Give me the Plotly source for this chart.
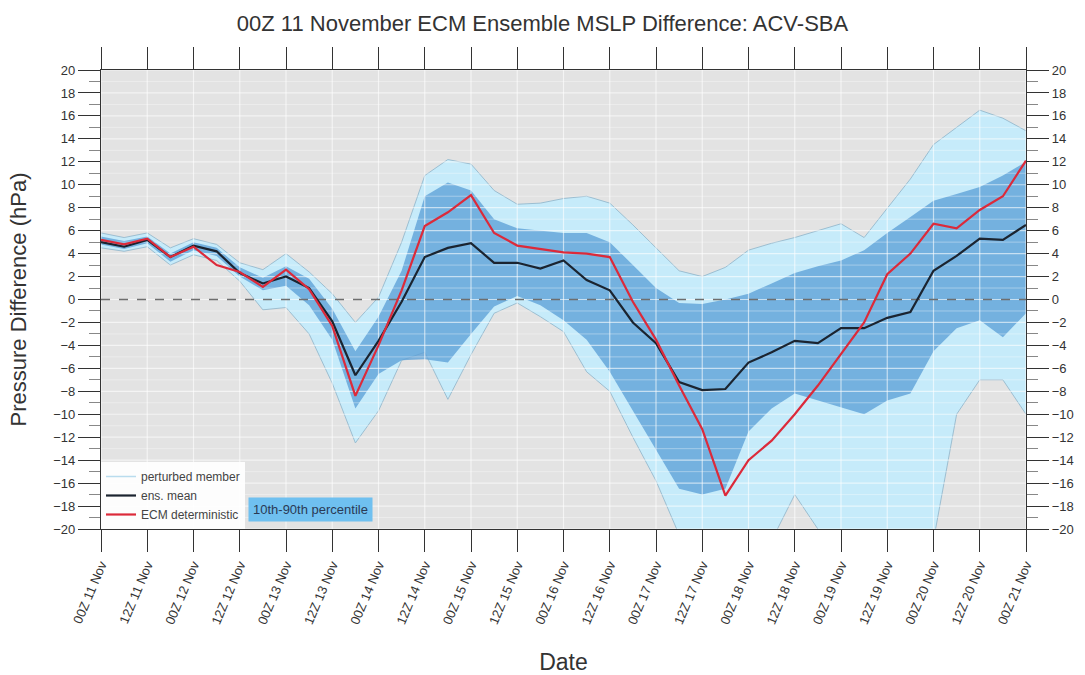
import plotly.graph_objects as go

# Forecast lead time (hours from 00Z 11 Nov), 6-hourly
hours = list(range(0, 241, 6))

# ECM deterministic run (hPa)
ecm_det = [5.2, 4.8, 5.3, 3.7, 4.6, 3.0, 2.4, 1.1, 2.6, 0.9, -2.3, -8.4, -4.0,
           0.8, 6.4, 7.6, 9.1, 5.8, 4.7, 4.4, 4.1, 4.0, 3.7, -0.2, -3.5, -7.5,
           -11.3, -17.1, -14.0, -12.3, -10.0, -7.5, -4.7, -2.0, 2.2, 4.0, 6.6,
           6.2, 7.8, 9.0, 12.1]

# Ensemble mean (hPa)
ens_mean = [5.0, 4.6, 5.2, 3.7, 4.7, 4.2, 2.3, 1.4, 2.0, 1.0, -1.9, -6.6, -3.6,
            -0.2, 3.7, 4.5, 4.9, 3.2, 3.2, 2.7, 3.4, 1.7, 0.8, -2.0, -3.8, -7.2,
            -7.9, -7.8, -5.5, -4.6, -3.6, -3.8, -2.5, -2.5, -1.6, -1.1, 2.5,
            3.8, 5.3, 5.2, 6.5]

# 90th and 10th percentiles of the perturbed members (hPa)
p90 = [5.5, 5.1, 5.5, 4.0, 5.0, 4.5, 2.8, 1.9, 2.9, 1.8, -0.8, -4.5, -1.5,
       2.5, 9.0, 10.2, 9.5, 7.0, 6.2, 6.0, 5.8, 5.8, 5.0, 3.0, 1.0, -0.3,
       -0.4, 0.0, 0.5, 1.4, 2.3, 2.9, 3.4, 4.3, 5.8, 7.2, 8.6, 9.2, 9.8,
       10.8, 12.0]
p10 = [4.8, 4.4, 4.9, 3.3, 4.3, 3.8, 2.0, 0.8, 1.2, -0.5, -3.5, -9.5, -6.5,
       -5.3, -5.2, -5.5, -3.0, -0.6, 0.3, -0.5, -1.8, -3.5, -6.3, -9.7, -13.0,
       -16.5, -17.0, -16.5, -11.5, -9.5, -8.2, -8.8, -9.4, -10.0, -8.8, -8.2,
       -4.5, -2.5, -1.8, -3.3, -1.2]

# Highest and lowest perturbed member (hPa)
mem_max = [5.8, 5.4, 5.8, 4.5, 5.3, 4.8, 3.2, 2.6, 4.0, 2.4, 0.5, -2.0, 0.2,
           5.0, 10.8, 12.2, 11.8, 9.5, 8.3, 8.4, 8.8, 9.0, 8.4, 6.5, 4.5, 2.5,
           2.0, 2.8, 4.3, 4.9, 5.4, 6.0, 6.6, 5.4, 8.0, 10.5, 13.5, 15.0, 16.5,
           15.8, 14.7]
mem_min = [4.5, 4.2, 4.6, 3.0, 3.9, 3.4, 1.6, -0.9, -0.7, -3.0, -7.3, -12.5,
           -9.7, -5.3, -4.6, -8.7, -4.8, -1.2, -0.3, -1.5, -2.8, -6.3, -8.0,
           -12.0, -15.8, -20.5, -22.0, -22.0, -22.0, -21.0, -17.0, -20.0,
           -22.0, -22.0, -22.0, -22.0, -21.0, -10.0, -7.0, -7.0, -10.0]

# Axis labelling
tick_hours = list(range(0, 241, 12))
tick_text = ["00Z 11 Nov", "12Z 11 Nov", "00Z 12 Nov", "12Z 12 Nov",
             "00Z 13 Nov", "12Z 13 Nov", "00Z 14 Nov", "12Z 14 Nov",
             "00Z 15 Nov", "12Z 15 Nov", "00Z 16 Nov", "12Z 16 Nov",
             "00Z 17 Nov", "12Z 17 Nov", "00Z 18 Nov", "12Z 18 Nov",
             "00Z 19 Nov", "12Z 19 Nov", "00Z 20 Nov", "12Z 20 Nov",
             "00Z 21 Nov"]
y_ticks = list(range(-20, 21, 2))
y_minor = list(range(-19, 20, 2))

FONT = "Liberation Sans, Arial, sans-serif"
ENVELOPE = "#c6ebfa"
BAND = "rgba(92,160,215,0.78)"
MEMBER = "rgba(150,185,205,0.9)"


def grid_path(values, horizontal):
    """Polyline with breaks so one trace draws a whole family of grid lines."""
    xs, ys = [], []
    for v in values:
        if horizontal:
            xs += [0, 240, None]
            ys += [v, v, None]
        else:
            xs += [v, v, None]
            ys += [-20, 20, None]
    return xs, ys


fig = go.Figure()

# spread of all perturbed members
fig.add_trace(go.Scatter(x=hours, y=mem_min, mode="lines",
                         line=dict(color=MEMBER, width=1),
                         showlegend=False, hoverinfo="skip"))
fig.add_trace(go.Scatter(x=hours, y=mem_max, mode="lines",
                         line=dict(color=MEMBER, width=1),
                         fill="tonexty", fillcolor=ENVELOPE,
                         showlegend=False, hoverinfo="skip"))

# 10th-90th percentile band
fig.add_trace(go.Scatter(x=hours, y=p10, mode="lines",
                         line=dict(color="rgba(0,0,0,0)", width=0),
                         showlegend=False, hoverinfo="skip"))
fig.add_trace(go.Scatter(x=hours, y=p90, mode="lines",
                         line=dict(color="rgba(0,0,0,0)", width=0),
                         fill="tonexty", fillcolor=BAND,
                         showlegend=False, hoverinfo="skip"))

# white grid drawn over the shaded spread
gx, gy = grid_path(y_minor, True)
fig.add_trace(go.Scatter(x=gx, y=gy, mode="lines", showlegend=False,
                         hoverinfo="skip",
                         line=dict(color="rgba(255,255,255,0.35)", width=1)))
gx, gy = grid_path(y_ticks, True)
fig.add_trace(go.Scatter(x=gx, y=gy, mode="lines", showlegend=False,
                         hoverinfo="skip",
                         line=dict(color="rgba(255,255,255,0.6)", width=1.2)))
gx, gy = grid_path(tick_hours, False)
fig.add_trace(go.Scatter(x=gx, y=gy, mode="lines", showlegend=False,
                         hoverinfo="skip",
                         line=dict(color="rgba(255,255,255,0.6)", width=1.2)))

# zero reference line
fig.add_trace(go.Scatter(x=[0, 240], y=[0, 0], mode="lines",
                         showlegend=False, hoverinfo="skip",
                         line=dict(color="#6e6e6e", width=1.5, dash="dash")))

# legend keys
fig.add_trace(go.Scatter(x=[None], y=[None], mode="lines",
                         line=dict(color="#b9dcee", width=1.5),
                         name="perturbed member"))
fig.add_trace(go.Scatter(x=hours, y=ens_mean, mode="lines",
                         line=dict(color="#1b2430", width=2.2),
                         name="ens. mean"))
fig.add_trace(go.Scatter(x=hours, y=ecm_det, mode="lines",
                         line=dict(color="#dc2a3a", width=2.2),
                         name="ECM deterministic"))

# right-hand pressure axis carrier
fig.add_trace(go.Scatter(x=[hours[0]], y=[ens_mean[0]], yaxis="y2",
                         mode="markers", marker=dict(opacity=0),
                         showlegend=False, hoverinfo="skip"))

fig.add_annotation(x=0.159, y=0.042, xref="paper", yref="paper",
                   xanchor="left", yanchor="middle",
                   text="10th-90th percentile", showarrow=False,
                   bgcolor="#6fc0f0", borderpad=4,
                   font=dict(family=FONT, size=13, color="#2a3a55"))

yaxis_common = dict(
    range=[-20, 20], tickvals=y_ticks, ticks="outside", ticklen=22,
    tickwidth=1.2, tickcolor="#333", showline=True, linecolor="#333",
    linewidth=1.2, zeroline=False, showgrid=False, automargin=False,
    tickfont=dict(family=FONT, size=13, color="#333"),
    minor=dict(dtick=1, ticks="outside", ticklen=11, tickcolor="#888",
               showgrid=False),
)

fig.update_layout(
    width=1085, height=675,
    margin=dict(l=101, r=59, t=70, b=146),
    paper_bgcolor="white", plot_bgcolor="#e3e3e3",
    title=dict(text="00Z 11 November ECM Ensemble MSLP Difference: ACV-SBA",
               x=0.5, xanchor="center", y=0.965, yanchor="middle",
               font=dict(family=FONT, size=22, color="#333")),
    xaxis=dict(range=[0, 240], tickvals=tick_hours, ticktext=tick_text,
               tickangle=-67, ticks="outside", ticklen=22, tickwidth=1.2,
               tickcolor="#333", showline=True, linecolor="#333",
               linewidth=1.2, mirror="ticks", zeroline=False,
               showgrid=False, automargin=False,
               tickfont=dict(family=FONT, size=13, color="#333"),
               title=dict(text="Date", standoff=28,
                          font=dict(family=FONT, size=23, color="#333"))),
    yaxis=dict(**yaxis_common,
               title=dict(text="Pressure Difference (hPa)", standoff=20,
                          font=dict(family=FONT, size=22, color="#333"))),
    yaxis2=dict(**yaxis_common, overlaying="y", side="right", anchor="x"),
    legend=dict(x=0.0, y=0.0, xanchor="left", yanchor="bottom",
                traceorder="normal",
                bgcolor="rgba(255,255,255,0.9)", borderwidth=0,
                font=dict(family=FONT, size=12, color="#444"),
                tracegroupgap=0, itemwidth=30),
    showlegend=True,
)

fig.write_html("out.html")
